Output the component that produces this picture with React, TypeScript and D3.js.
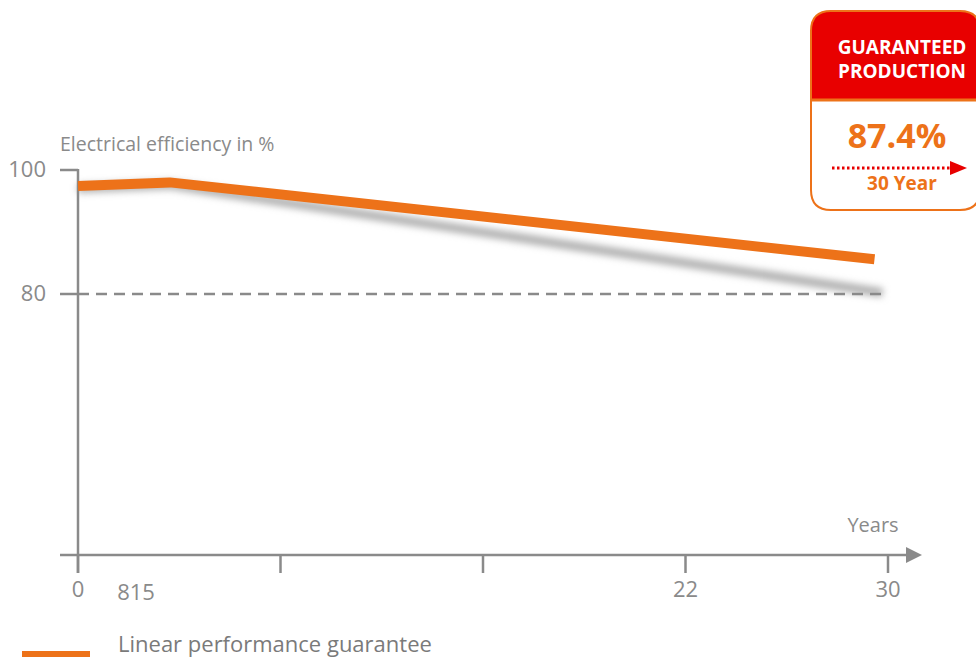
import React from "react";
import * as d3 from "d3";

const years = [0, 3.4, 29.5];
const efficiency = [97.4, 98.0, 85.6];
const shadowYears = [0, 3.4, 29.8];
const shadowValues = [97.0, 97.6, 80.2];
const yTicks = [100, 80];
const xTickValues = [0, 7.5, 15, 22.5, 30];
const xTickLabels = ["0", "", "", "22", "30"];
const extraLabel = { year: 2.15, text: "815" };
const guaranteeLevel = 80;
const boxValue = "87.4%";
const boxYear = "30 Year";

const W = 976;
const H = 657;
const GRAY = "#8a8a8a";
const ORANGE = "#ED7219";
const RED = "#E80000";
const FONT = "'Open Sans', 'Noto Sans', sans-serif";

export default function App() {
  const x = d3.scaleLinear().domain([0, 30]).range([78, 888]);
  const y = d3.scaleLinear().domain([80, 100]).range([294, 170]);
  const yBase = y(37.9);
  const line = d3.line<number>().x((_, i) => x(years[i])).y((d) => y(d));
  const shadow = d3.line<number>().x((_, i) => x(shadowYears[i])).y((d) => y(d));

  return (
    <svg width={W} height={H} style={{ position: "absolute", left: 0, top: 0 }} fontFamily={FONT}>
      <defs>
        <filter id="blur" x="-10%" y="-200%" width="120%" height="500%">
          <feGaussianBlur stdDeviation="3.5" />
        </filter>
      </defs>
      <rect width={W} height={H} fill="#fff" />
      <path d={shadow(shadowValues) || ""} fill="none" stroke="#b0b0b0" strokeWidth={9} filter="url(#blur)" />
      <line x1={x(0)} x2={885} y1={y(guaranteeLevel)} y2={y(guaranteeLevel)} stroke={GRAY} strokeWidth={2.5} strokeDasharray="11 7" />
      <line x1={x(0)} x2={x(0)} y1={y(100) - 1} y2={yBase + 18} stroke={GRAY} strokeWidth={2.5} />
      {yTicks.map((t) => (
        <g key={t}>
          <line x1={60} x2={x(0)} y1={y(t)} y2={y(t)} stroke={GRAY} strokeWidth={2.5} />
          <text x={46} y={y(t) + 7} textAnchor="end" fontSize={22} fill={GRAY}>{t}</text>
        </g>
      ))}
      <text x={60} y={151} fontSize={19.5} fill={GRAY}>Electrical efficiency in %</text>
      <line x1={60} x2={908} y1={yBase} y2={yBase} stroke={GRAY} strokeWidth={2.5} />
      <path d={`M906,${yBase - 8} L922,${yBase} L906,${yBase + 8} Z`} fill={GRAY} />
      {xTickValues.map((t, i) => (
        <g key={i}>
          <line x1={x(t)} x2={x(t)} y1={yBase} y2={yBase + 18} stroke={GRAY} strokeWidth={2.5} />
          {xTickLabels[i] && (
            <text x={x(t)} y={yBase + 42} textAnchor="middle" fontSize={22} fill={GRAY}>{xTickLabels[i]}</text>
          )}
        </g>
      ))}
      <text x={x(extraLabel.year)} y={yBase + 45} textAnchor="middle" fontSize={22} fill={GRAY}>{extraLabel.text}</text>
      <text x={873} y={532} textAnchor="middle" fontSize={20} fill={GRAY}>Years</text>
      <path d={line(efficiency) || ""} fill="none" stroke={ORANGE} strokeWidth={10} strokeLinejoin="round" />
      <rect x={22} y={651} width={68} height={10} fill={ORANGE} />
      <text x={118} y={652} fontSize={22} fill="#7a7a7a">Linear performance guarantee</text>
      <g>
        <path d="M811,100 L811,31 Q811,11 831,11 L960,11 Q980,11 980,31 L980,100 Z" fill={RED} stroke={ORANGE} strokeWidth={2} />
        <path d="M811,100 L811,190 Q811,210 831,210 L960,210 Q980,210 980,190 L980,100" fill="#fff" stroke={ORANGE} strokeWidth={2} />
        <line x1={811} x2={980} y1={100} y2={100} stroke={ORANGE} strokeWidth={3} />
        <text x={902} y={54} textAnchor="middle" fontSize={19} fontWeight="bold" fill="#fff">GUARANTEED</text>
        <text x={902} y={78} textAnchor="middle" fontSize={19} fontWeight="bold" fill="#fff">PRODUCTION</text>
        <text x={897} y={148} textAnchor="middle" fontSize={34} fontWeight="bold" fill={ORANGE}>{boxValue}</text>
        <line x1={832} x2={952} y1={168} y2={168} stroke={RED} strokeWidth={3} strokeDasharray="2.5 2.5" />
        <path d="M950,161 L967,168 L950,175 Z" fill={RED} />
        <text x={902} y={190} textAnchor="middle" fontSize={19} fontWeight="bold" fill={ORANGE}>{boxYear}</text>
      </g>
    </svg>
  );
}
